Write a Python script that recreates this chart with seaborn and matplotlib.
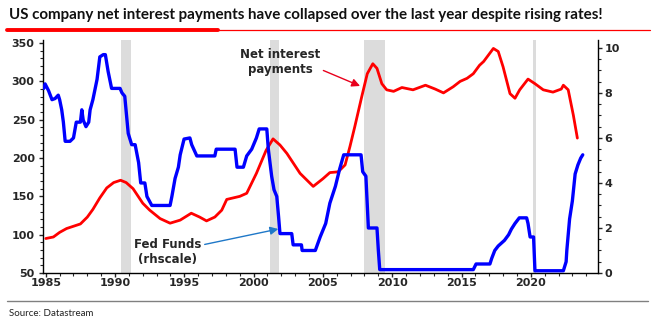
import matplotlib
matplotlib.use("Agg")
import matplotlib.pyplot as plt
from matplotlib.ticker import MultipleLocator
from matplotlib.lines import Line2D
import seaborn as sns
import pandas as pd

# Net interest payments of US non-financial companies, $bn (left scale)
nip_years = [1985.0, 1985.55, 1986.0, 1986.5, 1987.0, 1987.5, 1988.0, 1988.4, 1988.9,
             1989.4, 1989.9, 1990.4, 1990.8, 1991.3, 1992.0, 1992.5, 1993.25, 1993.97,
             1994.7, 1995.5, 1996.1, 1996.6, 1997.2, 1997.7, 1998.06, 1999.0, 1999.5,
             2000.2, 2000.9, 2001.4, 2001.9, 2002.4, 2003.35, 2004.3, 2005.0, 2005.5,
             2006.1, 2006.6, 2006.95, 2007.3, 2007.8, 2008.2, 2008.6, 2008.9, 2009.25,
             2009.6, 2010.1, 2010.7, 2011.5, 2012.4, 2013.1, 2013.7, 2014.4, 2014.9,
             2015.4, 2015.85, 2016.3, 2016.6, 2017.3, 2017.65, 2018.0, 2018.5, 2018.86,
             2019.2, 2019.8, 2020.3, 2020.9, 2021.6, 2022.2, 2022.35, 2022.7, 2023.07,
             2023.36]
nip_bn = [95, 97, 103, 108, 111, 114, 123, 133, 148,
          161, 168, 171, 168, 160, 141, 132, 121, 115,
          119, 128, 123, 118, 123, 132, 146, 150, 154,
          180, 210, 225, 217, 206, 180, 163, 173, 181,
          182, 191, 215, 241, 280, 310, 323, 317, 297,
          289, 287, 292, 289, 295, 290, 285, 293, 300,
          304, 310, 321, 326, 343, 339, 319, 284, 278,
          289, 303, 297, 289, 286, 290, 295, 289, 256,
          226]

# Effective Fed Funds rate, % (right scale)
ff_years = [1984.85, 1984.95, 1985.2, 1985.45, 1985.67, 1985.9, 1986.0, 1986.15, 1986.27,
            1986.4, 1986.75, 1987.0, 1987.2, 1987.5, 1987.6, 1987.7, 1987.9, 1988.1,
            1988.2, 1988.4, 1988.7, 1988.9, 1989.15, 1989.3, 1989.5, 1989.75, 1990.36,
            1990.5, 1990.7, 1990.95, 1991.2, 1991.45, 1991.7, 1991.85, 1992.15, 1992.3,
            1992.65, 1993.97, 1994.1, 1994.33, 1994.57, 1994.7, 1994.98, 1995.4, 1995.53,
            1995.9, 1997.2, 1997.3, 1998.66, 1998.8, 1999.26, 1999.5, 1999.86, 2000.2,
            2000.4, 2000.95, 2001.06, 2001.3, 2001.47, 2001.67, 2001.8, 2001.9, 2002.75,
            2002.85, 2003.45, 2003.5, 2004.45, 2004.8, 2005.2, 2005.5, 2005.9, 2006.2,
            2006.5, 2007.75, 2007.87, 2008.1, 2008.28, 2008.9, 2009.0, 2009.1, 2015.85,
            2016.05, 2017.05, 2017.18, 2017.4, 2017.65, 2018.1, 2018.4, 2018.6, 2018.86,
            2019.17, 2019.7, 2019.8, 2019.95, 2020.2, 2020.3, 2022.35, 2022.55, 2022.6,
            2022.8, 2023.0, 2023.2, 2023.4, 2023.6, 2023.75]
ff_rate = [8.2, 8.4, 8.1, 7.7, 7.75, 7.9, 7.7, 7.25, 6.7,
           5.85, 5.85, 6.0, 6.7, 6.7, 7.25, 6.8, 6.5, 6.7,
           7.25, 7.7, 8.6, 9.6, 9.7, 9.7, 8.95, 8.2, 8.2,
           8.0, 7.85, 6.2, 5.7, 5.7, 4.9, 4.0, 4.0, 3.4,
           3.0, 3.0, 3.4, 4.2, 4.7, 5.25, 5.95, 6.0, 5.7,
           5.2, 5.2, 5.5, 5.5, 4.7, 4.7, 5.2, 5.5, 6.0,
           6.4, 6.4, 5.5, 4.3, 3.7, 3.4, 2.5, 1.75, 1.75,
           1.25, 1.25, 1.0, 1.0, 1.6, 2.2, 3.1, 3.85, 4.6,
           5.25, 5.25, 4.5, 4.3, 2.0, 2.0, 1.0, 0.15, 0.15,
           0.4, 0.4, 0.65, 1.0, 1.2, 1.45, 1.7, 1.95, 2.2,
           2.45, 2.45, 2.2, 1.6, 1.6, 0.1, 0.1, 0.5, 1.0,
           2.4, 3.2, 4.4, 4.8, 5.1, 5.25]

# US recessions (start, end)
recessions = [(1990.45, 1991.15), (2001.15, 2001.85), (2007.95, 2009.5), (2020.15, 2020.4)]

x_ticks = [1985, 1990, 1995, 2000, 2005, 2010, 2015, 2020]

title = "US company net interest payments have collapsed over the last year despite rising rates!"

nip = pd.DataFrame({"year": nip_years, "value": nip_bn})
ff = pd.DataFrame({"year": ff_years, "value": ff_rate})

sns.set_style("ticks")
plt.rcParams["font.family"] = ["DejaVu Sans"]

fig = plt.figure(figsize=(6.53, 3.26), dpi=100)
ax = fig.add_axes([43 / 653, 1 - 273 / 326, 555 / 653, 233 / 326])
ax2 = ax.twinx()

for start, end in recessions:
    ax.axvspan(start, end, color="#dcdcdc", lw=0, zorder=0)

sns.lineplot(data=nip, x="year", y="value", ax=ax, color="#ff0000", lw=2.0,
             estimator=None, sort=False, zorder=3)
sns.lineplot(data=ff, x="year", y="value", ax=ax2, color="#0000ff", lw=2.4,
             estimator=None, sort=False, zorder=3)

ax.set_xlim(1984.8, 2024.85)
ax.set_ylim(50, 354)
ax2.set_ylim(0, 10.35)
ax.set_xlabel("")
ax.set_ylabel("")
ax2.set_ylabel("")

ax.set_xticks(x_ticks)
ax.xaxis.set_minor_locator(MultipleLocator(1))
ax.yaxis.set_major_locator(MultipleLocator(50))
ax.yaxis.set_minor_locator(MultipleLocator(10))
ax2.yaxis.set_major_locator(MultipleLocator(2))
ax2.yaxis.set_minor_locator(MultipleLocator(0.5))

for a in (ax, ax2):
    a.spines["top"].set_visible(False)
    for s in a.spines.values():
        s.set_linewidth(1.0)
        s.set_color("black")
    a.tick_params(which="major", length=3, width=1.0, labelsize=8, pad=1.5)
    a.tick_params(which="minor", length=2, width=0.8)
    for lab in a.get_xticklabels() + a.get_yticklabels():
        lab.set_fontweight("bold")
ax.spines["right"].set_visible(False)
ax2.spines["left"].set_visible(False)
ax2.spines["bottom"].set_visible(False)
ax2.tick_params(axis="y", which="both", right=True, left=False)
ax.tick_params(axis="x", pad=0.5)
ax.tick_params(axis="y", pad=3)

ax.annotate("Net interest\npayments", xy=(2007.68, 294), xytext=(2001.9, 325),
            ha="center", va="center", fontsize=8.5, fontweight="bold", linespacing=1.15,
            arrowprops=dict(arrowstyle="-|>", color="#e8001c", lw=1.0, mutation_scale=12,
                            shrinkA=0, shrinkB=0, relpos=(1.0, 0.25)))
ax.annotate("Fed Funds\n(rhscale)", xy=(2001.78, 107.4), xytext=(1993.8, 77.4),
            ha="center", va="center", fontsize=8.5, fontweight="bold", linespacing=1.15,
            arrowprops=dict(arrowstyle="-|>", color="#1f78c8", lw=1.0, mutation_scale=12,
                            shrinkA=0, shrinkB=0, relpos=(1.0, 0.75)))

# Header: bold title sized to span the width of the underline rule
title_txt = fig.text(9 / 653, 1 - 15 / 326, title, ha="left", va="center", fontsize=12,
                     fontweight="bold", family=["Lato", "DejaVu Sans"], color="#111111")
renderer = fig.canvas.get_renderer()
w = title_txt.get_window_extent(renderer).width
title_txt.set_fontsize(12 * 589 / w)

fig.add_artist(Line2D([218 / 653, 650 / 653], [1 - 30 / 326] * 2, color="#ff0000", lw=0.9))
fig.add_artist(Line2D([7 / 653, 218 / 653], [1 - 30 / 326] * 2, color="#ff0000", lw=2.8))
fig.add_artist(Line2D([7 / 653, 648 / 653], [1 - 301 / 326] * 2, color="#808080", lw=1.0))
fig.text(9 / 653, 1 - 313 / 326, "Source: Datastream", ha="left", va="center", fontsize=7,
         family=["Lato", "DejaVu Sans"], color="#222222")

fig.savefig("out.png", dpi=100)
